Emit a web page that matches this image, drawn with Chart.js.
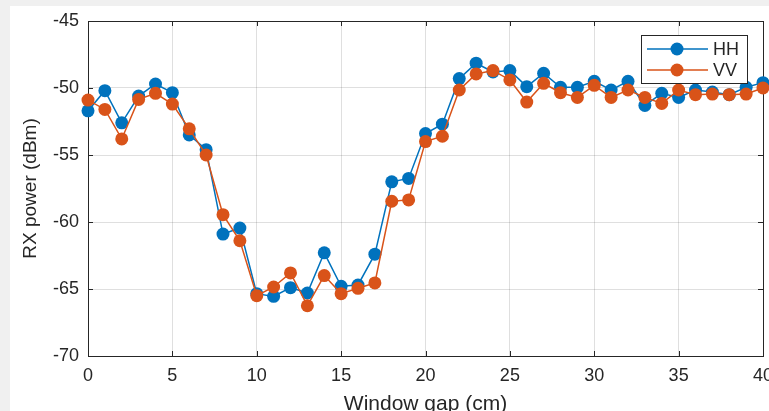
<!DOCTYPE html>
<html>
<head>
<meta charset="utf-8">
<script src="https://cdn.jsdelivr.net/npm/chart.js@4.4.1/dist/chart.umd.min.js"></script>
<style>
  html, body { margin: 0; padding: 0; background: #f0f0f0; overflow: hidden; width: 769px; height: 411px; }
  #panel { position: absolute; left: 10px; top: 6px; width: 800px; height: 420px; background: #fff; }
  #wrap { position: absolute; left: 0; top: 0; width: 800px; height: 420px; }
</style>
</head>
<body>
<div id="panel"></div>
<div id="wrap"><canvas id="chart"></canvas></div>
<script>
// window gap in cm
var gap = [0, 1, 2, 3, 4, 5, 6, 7, 8, 9, 10, 11, 12, 13, 14, 15, 16, 17, 18, 19, 20,
           21, 22, 23, 24, 25, 26, 27, 28, 29, 30, 31, 32, 33, 34, 35, 36, 37, 38, 39, 40];

// received power, dBm
var hh = [-51.7, -50.2, -52.6, -50.6, -49.7, -50.35, -53.5, -54.6, -60.9, -60.45, -65.35,
          -65.55, -64.9, -65.3, -62.3, -64.8, -64.7, -62.4, -57.0, -56.75, -53.4,
          -52.7, -49.3, -48.15, -48.8, -48.7, -49.9, -48.9, -49.95, -49.95, -49.5,
          -50.15, -49.5, -51.3, -50.4, -50.7, -50.15, -50.3, -50.5, -49.95, -49.6];
var vv = [-50.9, -51.6, -53.8, -50.85, -50.4, -51.2, -53.05, -55.0, -59.45, -61.4, -65.5,
          -64.85, -63.8, -66.25, -64.0, -65.35, -64.95, -64.55, -58.45, -58.35, -54.0,
          -53.6, -50.15, -48.95, -48.7, -49.4, -51.05, -49.65, -50.35, -50.7, -49.8,
          -50.7, -50.15, -50.7, -51.15, -50.15, -50.5, -50.45, -50.5, -50.45, -50.0];

var xTicks = [0, 5, 10, 15, 20, 25, 30, 35, 40];
var yTicks = [-70, -65, -60, -55, -50, -45];

var ink = '#262626';
var blue = '#0072BD';
var orange = '#D95319';
var fam = '"Liberation Sans", Arial, sans-serif';

function pts(ys) {
  return gap.map((x, i) => ({ x: x, y: ys[i] }));
}

// box round the axes with small inward ticks, like MATLAB
var boxPlugin = {
  id: 'box',
  beforeDatasetsDraw(chart) {
    const { ctx, chartArea: a, scales } = chart;
    ctx.save();
    ctx.strokeStyle = ink;
    ctx.lineWidth = 1;
    ctx.strokeRect(Math.round(a.left) + 0.5, Math.round(a.top) + 0.5,
                   Math.round(a.right - a.left), Math.round(a.bottom - a.top));
    ctx.beginPath();
    xTicks.forEach(v => {
      const px = Math.round(scales.x.getPixelForValue(v)) + 0.5;
      ctx.moveTo(px, a.bottom); ctx.lineTo(px, a.bottom - 5);
      ctx.moveTo(px, a.top); ctx.lineTo(px, a.top + 5);
    });
    yTicks.forEach(v => {
      const py = Math.round(scales.y.getPixelForValue(v)) + 0.5;
      ctx.moveTo(a.left, py); ctx.lineTo(a.left + 5, py);
      ctx.moveTo(a.right, py); ctx.lineTo(a.right - 5, py);
    });
    ctx.stroke();
    ctx.restore();
  }
};

// legend box in the upper right corner
var legendPlugin = {
  id: 'boxLegend',
  afterDraw(chart) {
    const ctx = chart.ctx;
    const x0 = 641, y0 = 35, w = 106, h = 48;
    ctx.save();
    ctx.fillStyle = '#fff';
    ctx.fillRect(x0, y0, w, h);
    ctx.strokeStyle = ink;
    ctx.lineWidth = 1;
    ctx.strokeRect(x0 + 0.5, y0 + 0.5, w, h);
    ctx.font = '18px ' + fam;
    ctx.textBaseline = 'middle';
    chart.data.datasets.forEach((ds, i) => {
      const y = 49 + i * 21;
      ctx.strokeStyle = ds.borderColor;
      ctx.lineWidth = 1.5;
      ctx.beginPath();
      ctx.moveTo(647, y); ctx.lineTo(708, y);
      ctx.stroke();
      ctx.fillStyle = ds.backgroundColor;
      ctx.beginPath();
      ctx.arc(677, y, 6.5, 0, Math.PI * 2);
      ctx.fill();
      ctx.fillStyle = ink;
      ctx.fillText(ds.label, 713, y + 1);
    });
    ctx.restore();
  }
};

new Chart(document.getElementById('chart'), {
  type: 'line',
  data: {
    datasets: [{
      label: 'HH',
      data: pts(hh),
      borderColor: blue,
      backgroundColor: blue,
      borderWidth: 1.5,
      pointRadius: 6.5,
      pointBorderWidth: 0,
      clip: false,
      order: 1
    }, {
      label: 'VV',
      data: pts(vv),
      borderColor: orange,
      backgroundColor: orange,
      borderWidth: 1.5,
      pointRadius: 6.5,
      pointBorderWidth: 0,
      clip: false,
      order: 0
    }]
  },
  options: {
    responsive: true,
    maintainAspectRatio: false,
    animation: false,
    layout: { padding: { left: 0, top: 21, right: 37, bottom: 2 } },
    plugins: { legend: { display: false }, tooltip: { enabled: false } },
    scales: {
      x: {
        type: 'linear',
        min: 0,
        max: 40,
        afterBuildTicks: s => { s.ticks = xTicks.map(v => ({ value: v })); },
        afterFit: s => { s.height = 62; s.paddingLeft = 0; s.paddingRight = 0; },
        ticks: { color: ink, font: { family: fam, size: 18 }, padding: 9, maxRotation: 0 },
        grid: { color: 'rgba(38,38,38,0.15)', drawTicks: false },
        border: { display: false },
        title: {
          display: true,
          text: 'Window gap (cm)',
          color: ink,
          font: { family: fam, size: 21 },
          padding: { top: 0, bottom: 1 }
        }
      },
      y: {
        min: -70,
        max: -45,
        afterBuildTicks: s => { s.ticks = yTicks.map(v => ({ value: v })); },
        afterFit: s => { s.width = 88; s.paddingTop = 0; s.paddingBottom = 0; },
        ticks: { color: ink, font: { family: fam, size: 18 }, padding: 9 },
        grid: { color: 'rgba(38,38,38,0.15)', drawTicks: false },
        border: { display: false },
        title: {
          display: true,
          text: 'RX power (dBm)',
          color: ink,
          font: { family: fam, size: 19 },
          padding: { top: 19, bottom: 0 }
        }
      }
    }
  },
  plugins: [boxPlugin, legendPlugin]
});
</script>
</body>
</html>
